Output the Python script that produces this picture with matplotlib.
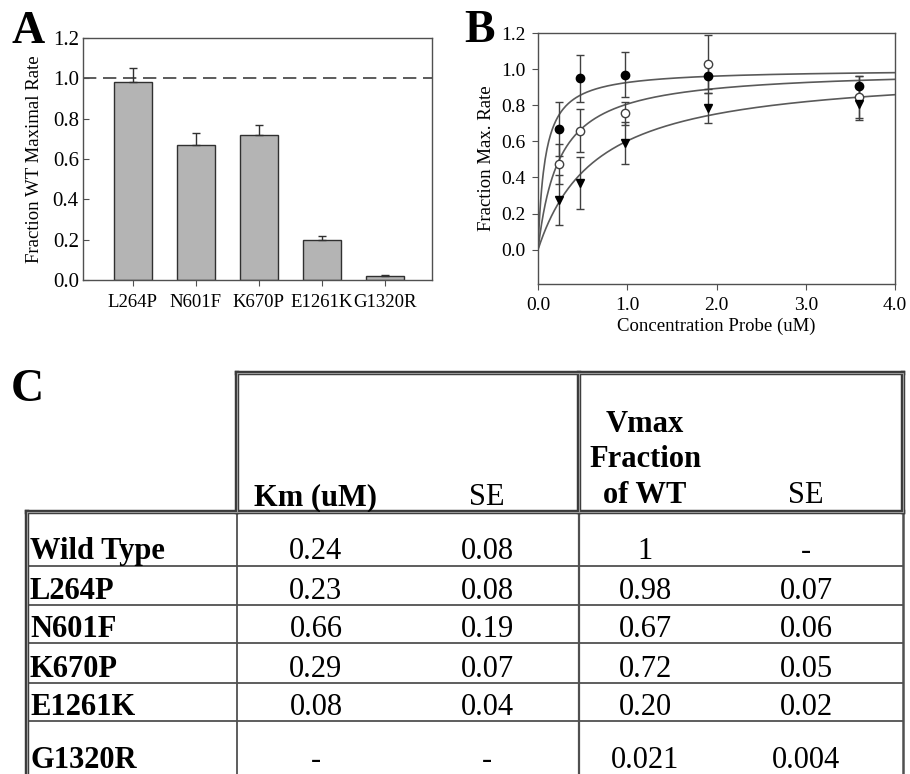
import numpy as np
import matplotlib
matplotlib.use("Agg")
import matplotlib.pyplot as plt

plt.rcParams['font.family'] = ['Liberation Serif', 'DejaVu Serif']

# ---------------- data ----------------
variants = ['Wild Type', 'L264P', 'N601F', 'K670P', 'E1261K', 'G1320R']
km_str = ['0.24', '0.23', '0.66', '0.29', '0.08', '-']
km_se_str = ['0.08', '0.08', '0.19', '0.07', '0.04', '-']
vmax_str = ['1', '0.98', '0.67', '0.72', '0.20', '0.021']
vmax_se_str = ['-', '0.07', '0.06', '0.05', '0.02', '0.004']

# panel A: mutants relative to WT
mutants = variants[1:]
vmax_frac = [float(v) for v in vmax_str[1:]]
vmax_frac_se = [float(v) for v in vmax_se_str[1:]]

# panel B: titration data
conc = [0.235, 0.47, 0.98, 1.9, 3.6]
filled_y = [0.667, 0.95, 0.97, 0.96, 0.907]
filled_err = [0.15, 0.13, 0.126, 0.07, 0.056]
open_y = [0.476, 0.659, 0.756, 1.03, 0.844]
open_err = [0.112, 0.12, 0.063, 0.16, 0.116]
tri_y = [0.274, 0.369, 0.593, 0.785, 0.809]
tri_err = [0.139, 0.146, 0.116, 0.085, 0.093]
# fitted Km for curves (filled: E1261K, open: Wild Type, triangles: N601F)
km_filled = float(km_str[4])
km_open = float(km_str[0])
km_tri = float(km_str[2])

W, H = 910, 774
fig = plt.figure(figsize=(W / 100, H / 100), dpi=100)


def rect(l, t, r, b):
    return [l / W, 1 - b / H, (r - l) / W, (b - t) / H]


spine_c = '#505050'
fs = 13.5

# ---------------- panel A ----------------
axA = fig.add_axes(rect(83, 38, 432, 280))
xa = np.arange(len(mutants))
axA.bar(xa, vmax_frac, width=0.6, color='#b4b4b4', edgecolor='#303030', linewidth=1.0, zorder=2)
axA.errorbar(xa, vmax_frac, yerr=[np.zeros(len(xa)), vmax_frac_se], fmt='none',
             ecolor='#303030', elinewidth=1.0, capsize=3, capthick=1.0, zorder=3)
axA.axhline(1.0, color='#404040', lw=1.2, dashes=(8, 4), zorder=1)
axA.set_xlim(-0.79, 4.75)
axA.set_ylim(0, 1.2)
axA.set_yticks(np.arange(0, 1.21, 0.2))
axA.set_yticklabels([f'{v:.1f}' for v in np.arange(0, 1.21, 0.2)], fontsize=15)
axA.set_xticks(xa)
axA.set_xticklabels(mutants, fontsize=fs)
axA.tick_params(axis='y', direction='in', length=4, pad=3, color=spine_c)
axA.tick_params(axis='x', direction='out', length=4, pad=6, color=spine_c)
axA.set_ylabel('Fraction WT Maximal Rate', fontsize=fs, labelpad=7)
for s in axA.spines.values():
    s.set_color(spine_c)
    s.set_linewidth(1.0)

# ---------------- panel B ----------------
axB = fig.add_axes(rect(538, 33, 895, 284))
xc = np.linspace(0, 4, 400)
curve_c = '#5a5a5a'
for km in (km_filled, km_open, km_tri):
    axB.plot(xc, xc / (km + xc), color=curve_c, lw=1.2, zorder=2)
eb_kw = dict(ecolor='#404040', elinewidth=1.0, capsize=3, capthick=1.0, zorder=3)
axB.errorbar(conc, filled_y, yerr=filled_err, fmt='o', ms=6, mfc='black', mec='black', **eb_kw)
axB.errorbar(conc, open_y, yerr=open_err, fmt='o', ms=6, mfc='white', mec='#404040', mew=1.0, **eb_kw)
axB.errorbar(conc, tri_y, yerr=tri_err, fmt='v', ms=6, mfc='black', mec='black', **eb_kw)
axB.set_xlim(0, 4)
axB.set_ylim(-0.19, 1.2)
axB.set_xticks(np.arange(0, 4.1, 1.0))
axB.set_xticklabels([f'{v:.1f}' for v in np.arange(0, 4.1, 1.0)], fontsize=14)
axB.set_yticks(np.arange(0, 1.21, 0.2))
axB.set_yticklabels([f'{v:.1f}' for v in np.arange(0, 1.21, 0.2)], fontsize=14)
axB.tick_params(axis='both', direction='out', length=4, color=spine_c)
axB.tick_params(axis='x', pad=5)
axB.tick_params(axis='y', pad=5)
axB.set_xlabel('Concentration Probe (uM)', fontsize=fs, labelpad=3)
axB.set_ylabel('Fraction Max. Rate', fontsize=fs, labelpad=4)
for s in axB.spines.values():
    s.set_color(spine_c)
    s.set_linewidth(1.0)

# ---------------- panel C (table) ----------------
axC = fig.add_axes([0, 0, 1, 1])
axC.set_xlim(0, W)
axC.set_ylim(H, 0)
axC.axis('off')
axC.patch.set_alpha(0)


def thick(xs, ys):
    axC.plot(xs, ys, color='#3a3a3a', lw=3.2, solid_capstyle='projecting', zorder=3)
    axC.plot(xs, ys, color='#9a9a9a', lw=0.8, solid_capstyle='projecting', zorder=4)


def thin(xs, ys, lw=1.3):
    axC.plot(xs, ys, color='#505050', lw=lw, zorder=2)


x_left, x_c1, x_c3, x_right = 27, 237, 579, 903
y_top, y_head = 373, 512
row_lines = [512, 566, 605, 643, 683, 721]
row_base = [559, 599, 637, 677, 715, 768]
col_x = [316, 487, 645, 806]

# header box
thick([x_c1, x_right], [y_top, y_top])
thick([x_c1, x_c1], [y_top, y_head])
thick([x_c3, x_c3], [y_top, y_head])
thick([x_right, x_right], [y_top, y_head])
thick([x_left, x_right], [y_head, y_head])
# body
thick([x_left, x_left], [y_head, H + 5])
thin([x_c1, x_c1], [y_head, H + 5])
thin([x_c3, x_c3], [y_head, H + 5], lw=1.6)
thin([x_right, x_right], [y_head, H + 5], lw=1.8)
for yl in row_lines[1:]:
    thin([x_left, x_right], [yl, yl])

tfs = 22
axC.text(col_x[0], 505, 'Km (uM)', fontsize=tfs, fontweight='bold', ha='center', va='baseline')
axC.text(col_x[1], 505, 'SE', fontsize=tfs, ha='center', va='baseline')
for txt, yb in zip(['Vmax', 'Fraction', 'of WT'], [432, 467, 503]):
    axC.text(col_x[2], yb, txt, fontsize=tfs, fontweight='bold', ha='center', va='baseline')
axC.text(col_x[3], 503, 'SE', fontsize=tfs, ha='center', va='baseline')

for i, name in enumerate(variants):
    yb = row_base[i]
    axC.text(30, yb, name, fontsize=tfs, fontweight='bold', ha='left', va='baseline')
    for j, col in enumerate([km_str, km_se_str, vmax_str, vmax_se_str]):
        axC.text(col_x[j], yb, col[i], fontsize=tfs, ha='center', va='baseline')

# panel letters
for letter, x, yb in [('A', 11, 43), ('B', 464, 42), ('C', 11, 401)]:
    axC.text(x, yb, letter, fontsize=33, fontweight='bold', ha='left', va='baseline')

fig.savefig('out.png', dpi=100)
